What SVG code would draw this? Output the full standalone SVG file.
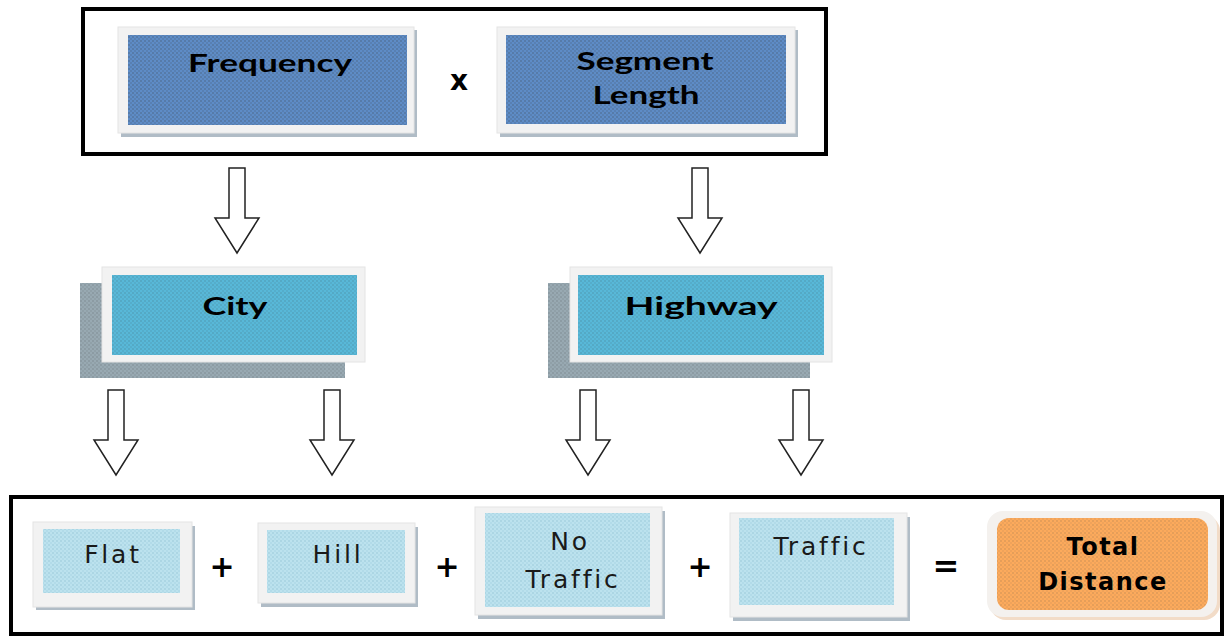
<svg xmlns="http://www.w3.org/2000/svg" width="1225" height="637" viewBox="0 0 1225 637">
<defs>
<pattern id="dots" width="4" height="4" patternUnits="userSpaceOnUse">
<circle cx="1" cy="1" r="0.8" fill="#333" fill-opacity="0.45"/>
<circle cx="3" cy="3" r="0.8" fill="#333" fill-opacity="0.3"/>
</pattern>
<pattern id="odots" width="4" height="4" patternUnits="userSpaceOnUse">
<circle cx="1" cy="1" r="0.7" fill="#444" fill-opacity="0.35"/>
<circle cx="3" cy="3" r="0.7" fill="#444" fill-opacity="0.2"/>
</pattern>
<pattern id="ldots" width="4" height="4" patternUnits="userSpaceOnUse">
<circle cx="1" cy="1" r="0.7" fill="#4a8fa8" fill-opacity="0.4"/>
<circle cx="3" cy="3" r="0.7" fill="#4a8fa8" fill-opacity="0.25"/>
</pattern>
<path id="arrow" d="M-8,0 H8 V50 H22 L0,85 L-22,50 H-8 Z"/>
</defs>
<style>
.frame{fill:#f2f2f2;stroke:#e4e4e4;stroke-width:1}
.fshadow{fill:#b0bcc6}
.dark{fill:#5e8cc6}
.mid{fill:#58b8d8}
.light{fill:#bce2ee}
.orange{fill:#fcaa5c}
.outer{fill:none;stroke:#000;stroke-width:4}
.arr{fill:#fff;stroke:#222;stroke-width:1.5}
.tb{font-family:Lato,"Liberation Sans",sans-serif;font-weight:bold;fill:#000;text-anchor:middle}
.tl{font-family:"DejaVu Sans","Liberation Sans",sans-serif;fill:#1a1a1a;text-anchor:middle;letter-spacing:2.8px}
.op{font-family:"DejaVu Sans","Liberation Sans",sans-serif;font-weight:bold;fill:#000;text-anchor:middle}
</style>
<rect width="1225" height="637" fill="#fff"/>

<g id="top-container">
<rect class="outer" x="83" y="9" width="743" height="145"/>
</g>
<g id="frequency">
<rect class="fshadow" x="121" y="30" width="296" height="107"/>
<rect class="frame" x="118" y="27" width="296" height="106"/>
<rect class="dark" x="128" y="35" width="279" height="90"/>
<rect x="128" y="35" width="279" height="90" fill="url(#dots)"/>
<text class="tb" x="270" y="72" font-size="24" textLength="164" lengthAdjust="spacingAndGlyphs">Frequency</text>
</g>
<text class="op" x="459" y="90" font-size="28">x</text>
<g id="segment-length">
<rect class="fshadow" x="500" y="30" width="298" height="107"/>
<rect class="frame" x="497" y="27" width="298" height="106"/>
<rect class="dark" x="506" y="35" width="280" height="89"/>
<rect x="506" y="35" width="280" height="89" fill="url(#dots)"/>
<text class="tb" x="645" y="70" font-size="24" textLength="137" lengthAdjust="spacingAndGlyphs">Segment</text>
<text class="tb" x="646" y="104" font-size="24" textLength="107" lengthAdjust="spacingAndGlyphs">Length</text>
</g>

<g id="city">
<rect fill="#98a9b2" x="80" y="283" width="265" height="95"/>
<rect x="80" y="283" width="265" height="95" fill="url(#dots)" opacity="0.6"/>
<rect class="frame" x="102" y="267" width="263" height="95"/>
<rect class="mid" x="112" y="275" width="245" height="80"/>
<rect x="112" y="275" width="245" height="80" fill="url(#dots)" opacity="0.6"/>
<text class="tb" x="235" y="315" font-size="25" textLength="65" lengthAdjust="spacingAndGlyphs">City</text>
</g>
<g id="highway">
<rect fill="#98a9b2" x="548" y="283" width="262" height="95"/>
<rect x="548" y="283" width="262" height="95" fill="url(#dots)" opacity="0.6"/>
<rect class="frame" x="570" y="267" width="262" height="95"/>
<rect class="mid" x="578" y="275" width="246" height="80"/>
<rect x="578" y="275" width="246" height="80" fill="url(#dots)" opacity="0.6"/>
<text class="tb" x="701" y="315" font-size="25" textLength="153" lengthAdjust="spacingAndGlyphs">Highway</text>
</g>

<g id="connectors">
<use href="#arrow" class="arr" transform="translate(237,168)"/>
<use href="#arrow" class="arr" transform="translate(700,168)"/>
<use href="#arrow" class="arr" transform="translate(116,390)"/>
<use href="#arrow" class="arr" transform="translate(332,390)"/>
<use href="#arrow" class="arr" transform="translate(588,390)"/>
<use href="#arrow" class="arr" transform="translate(801,390)"/>
</g>

<g id="bottom-container">
<rect class="outer" x="11" y="497" width="1211" height="137"/>
</g>
<g id="flat">
<rect class="fshadow" x="36" y="526" width="159" height="84"/>
<rect class="frame" x="33" y="522" width="159" height="85"/>
<rect class="light" x="43" y="529" width="137" height="64"/>
<rect x="43" y="529" width="137" height="64" fill="url(#ldots)"/>
<text class="tl" x="113" y="563" font-size="25">Flat</text>
</g>
<text class="op" x="222" y="577" font-size="30">+</text>
<g id="hill">
<rect class="fshadow" x="261" y="527" width="157" height="80"/>
<rect class="frame" x="258" y="523" width="157" height="80"/>
<rect class="light" x="267" y="530" width="138" height="63"/>
<rect x="267" y="530" width="138" height="63" fill="url(#ldots)"/>
<text class="tl" x="338" y="563" font-size="25">Hill</text>
</g>
<text class="op" x="447" y="577" font-size="30">+</text>
<g id="no-traffic">
<rect class="fshadow" x="478" y="511" width="187" height="108"/>
<rect class="frame" x="475" y="507" width="187" height="108"/>
<rect class="light" x="485" y="513" width="165" height="94"/>
<rect x="485" y="513" width="165" height="94" fill="url(#ldots)"/>
<text class="tl" x="570" y="550" font-size="25">No</text>
<text class="tl" x="573" y="588" font-size="25">Traffic</text>
</g>
<text class="op" x="700" y="577" font-size="30">+</text>
<g id="traffic">
<rect class="fshadow" x="733" y="517" width="177" height="104"/>
<rect class="frame" x="730" y="513" width="177" height="104"/>
<rect class="light" x="739" y="518" width="155" height="87"/>
<rect x="739" y="518" width="155" height="87" fill="url(#ldots)"/>
<text class="tl" x="821" y="555" font-size="25">Traffic</text>
</g>
<text class="op" x="946" y="577" font-size="32">=</text>
<g id="total-distance">
<rect x="990" y="515" width="230" height="105" rx="16" fill="#f2dcc8"/>
<rect x="987" y="511" width="230" height="106" rx="16" fill="#f4f1ee"/>
<rect class="orange" x="997" y="518" width="211" height="92" rx="12"/>
<rect x="997" y="518" width="211" height="92" rx="12" fill="url(#odots)"/>
<text class="op" x="1103" y="555" font-size="24" letter-spacing="1.5">Total</text>
<text class="op" x="1103" y="590" font-size="24" letter-spacing="1.5">Distance</text>
</g>
</svg>
